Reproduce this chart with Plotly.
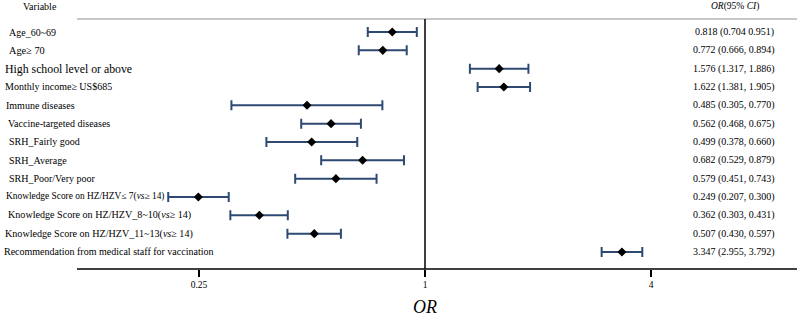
import math
import plotly.graph_objects as go

variables = [
    "Age_60~69",
    "Age≥ 70",
    "High school level or above",
    "Monthly income≥ US$685",
    "Immune diseases",
    "Vaccine-targeted diseases",
    "SRH_Fairly good",
    "SRH_Average",
    "SRH_Poor/Very poor",
    "Knowledge Score on HZ/HZV≤ 7(<i>vs</i>≥ 14)",
    "Knowledge Score on HZ/HZV_8~10(<i>vs</i>≥ 14)",
    "Knowledge Score on HZ/HZV_11~13(<i>vs</i>≥ 14)",
    "Recommendation from medical staff for vaccination",
]
odds_ratio = [0.818, 0.772, 1.576, 1.622, 0.485, 0.562, 0.499, 0.682, 0.579, 0.249, 0.362, 0.507, 3.347]
ci_low = [0.704, 0.666, 1.317, 1.381, 0.305, 0.468, 0.378, 0.529, 0.451, 0.207, 0.303, 0.430, 2.955]
ci_high = [0.951, 0.894, 1.886, 1.905, 0.770, 0.675, 0.660, 0.879, 0.743, 0.300, 0.431, 0.597, 3.792]
ci_text = [
    "0.818 (0.704 0.951)",
    "0.772 (0.666, 0.894)",
    "1.576 (1.317, 1.886)",
    "1.622 (1.381, 1.905)",
    "0.485 (0.305, 0.770)",
    "0.562 (0.468, 0.675)",
    "0.499 (0.378, 0.660)",
    "0.682 (0.529, 0.879)",
    "0.579 (0.451, 0.743)",
    "0.249 (0.207, 0.300)",
    "0.362 (0.303, 0.431)",
    "0.507 (0.430, 0.597)",
    "3.347 (2.955, 3.792)",
]
tick_values = [0.25, 1, 4]
tick_labels = ["0.25", "1", "4"]

# style: left indent (px) and font size of each variable label
label_indent = [7, 7, 3, 3, 4, 6, 7, 7, 7, 4, 6, 3, 2]
label_size = [10, 10.3, 11.8, 10, 10, 10, 10, 10, 10, 9.4, 10.1, 10.1, 10]

W, H = 800, 319
TOP, BOTTOM = 19, 269
FONT = "Liberation Serif, Times New Roman, serif"
BAR_COLOR = "#2E4A72"

rows = list(range(len(variables)))

fig = go.Figure()
fig.add_trace(go.Scatter(
    x=odds_ratio, y=rows, mode="markers",
    marker=dict(symbol="diamond", size=7, color="black"),
    error_x=dict(
        type="data", symmetric=False,
        array=[h - o for h, o in zip(ci_high, odds_ratio)],
        arrayminus=[o - l for o, l in zip(odds_ratio, ci_low)],
        color=BAR_COLOR, thickness=2, width=5,
    ),
    showlegend=False, hoverinfo="skip",
))

# x range: 1 at px 425, 113 px per doubling
px_per_log10 = 113 / math.log10(2)
x_left = (0 - 425) / px_per_log10
x_right = (W - 425) / px_per_log10

# y range: row 0 at px 32, spacing 18.33
row0, step = 32, 18.33
y_top = (TOP - row0) / step
y_bot = (BOTTOM - row0) / step

annotations = []
for i, (v, t) in enumerate(zip(variables, ci_text)):
    annotations.append(dict(
        x=label_indent[i] / W, xref="paper", y=i, yref="y",
        text=v, showarrow=False, xanchor="left", yanchor="middle",
        font=dict(family=FONT, size=label_size[i], color="black"),
    ))
    annotations.append(dict(
        x=734 / W, xref="paper", y=i, yref="y",
        text=t, showarrow=False, xanchor="center", yanchor="middle",
        font=dict(family=FONT, size=10, color="black"),
    ))

annotations.append(dict(
    x=21 / W, xref="paper", y=(BOTTOM - 7) / (BOTTOM - TOP), yref="paper",
    text="Variable", showarrow=False, xanchor="left", yanchor="middle",
    font=dict(family=FONT, size=10, color="black"),
))
annotations.append(dict(
    x=735 / W, xref="paper", y=(BOTTOM - 7) / (BOTTOM - TOP), yref="paper",
    text="<i>OR</i>(95% <i>CI</i>)", showarrow=False, xanchor="center", yanchor="middle",
    font=dict(family=FONT, size=9.5, color="black"),
))
annotations.append(dict(
    x=425 / W, xref="paper", y=(BOTTOM - 307) / (BOTTOM - TOP), yref="paper",
    text="<i>OR</i>", showarrow=False, xanchor="center", yanchor="middle",
    font=dict(family=FONT, size=18, color="black"),
))

shapes = [
    dict(type="line", xref="paper", yref="paper", x0=77 / W, x1=797 / W, y0=1, y1=1,
         line=dict(color="#c8c8c8", width=2)),
    dict(type="line", xref="paper", yref="paper", x0=77 / W, x1=797 / W, y0=0, y1=0,
         line=dict(color="black", width=1.5)),
    dict(type="line", xref="x", yref="paper", x0=1, x1=1, y0=0, y1=1,
         line=dict(color="black", width=1.5)),
]

fig.update_layout(
    width=W, height=H,
    margin=dict(l=0, r=0, t=TOP, b=H - BOTTOM),
    paper_bgcolor="white", plot_bgcolor="white",
    xaxis=dict(
        type="log", range=[x_left, x_right],
        tickvals=tick_values, ticktext=tick_labels,
        ticks="outside", ticklen=7, tickwidth=1.5, tickcolor="black",
        showgrid=False, zeroline=False, showline=False,
        tickfont=dict(family=FONT, size=9.5, color="black"),
    ),
    yaxis=dict(
        range=[y_bot, y_top], showgrid=False, zeroline=False,
        showticklabels=False, showline=False, ticks="",
    ),
    annotations=annotations,
    shapes=shapes,
)

fig.write_html(
    "out.html",
    config={"displayModeBar": False},
    post_script="document.body.style.margin='0';document.body.style.padding='0';",
)
